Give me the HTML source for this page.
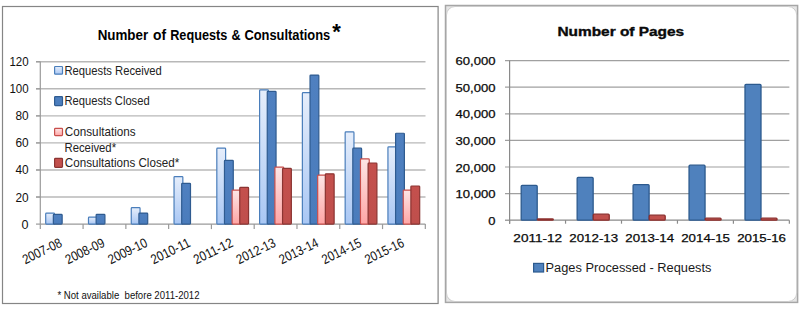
<!DOCTYPE html>
<html><head><meta charset="utf-8"><title>Charts</title>
<style>html,body{margin:0;padding:0;background:#fff;width:800px;height:309px;overflow:hidden}svg{display:block}</style>
</head><body>
<svg width="800" height="309" viewBox="0 0 800 309">
<defs>
<linearGradient id="gRR" x1="0" y1="0" x2="0" y2="1"><stop offset="0" stop-color="#e6eefb"/><stop offset="1" stop-color="#a9c7f4"/></linearGradient>
<linearGradient id="gRC" x1="0" y1="0" x2="0" y2="1"><stop offset="0" stop-color="#4f80c0"/><stop offset="1" stop-color="#4a7cbc"/></linearGradient>
<linearGradient id="gCR" x1="0" y1="0" x2="0" y2="1"><stop offset="0" stop-color="#fde6e6"/><stop offset="1" stop-color="#ffa5a5"/></linearGradient>
<linearGradient id="gCC" x1="0" y1="0" x2="0" y2="1"><stop offset="0" stop-color="#c4504d"/><stop offset="1" stop-color="#bf4f4c"/></linearGradient>
</defs>
<rect x="2.5" y="6.5" width="435.6" height="297" fill="#fff" stroke="#858585" stroke-width="1.2"/>
<text x="97.63" y="39.80" font-family='"Liberation Sans", sans-serif' font-size="14.8" fill="#000" font-weight="bold" textLength="50.55" lengthAdjust="spacingAndGlyphs" xml:space="preserve">Number</text>
<text x="152.95" y="39.80" font-family='"Liberation Sans", sans-serif' font-size="14.8" fill="#000" font-weight="bold" textLength="13.04" lengthAdjust="spacingAndGlyphs" xml:space="preserve">of</text>
<text x="170.17" y="39.80" font-family='"Liberation Sans", sans-serif' font-size="14.8" fill="#000" font-weight="bold" textLength="57.15" lengthAdjust="spacingAndGlyphs" xml:space="preserve">Requests</text>
<text x="231.53" y="39.80" font-family='"Liberation Sans", sans-serif' font-size="14.8" fill="#000" font-weight="bold" textLength="9.13" lengthAdjust="spacingAndGlyphs" xml:space="preserve">&amp;</text>
<text x="244.38" y="39.80" font-family='"Liberation Sans", sans-serif' font-size="14.8" fill="#000" font-weight="bold" textLength="85.90" lengthAdjust="spacingAndGlyphs" xml:space="preserve">Consultations</text>
<text x="332.20" y="38.90" font-family='"Liberation Sans", sans-serif' font-size="22" fill="#000" font-weight="bold" xml:space="preserve">*</text>
<line x1="36" y1="197.04" x2="425.5" y2="197.04" stroke="#b8b8b8" stroke-width="1.4"/>
<line x1="36" y1="169.98" x2="425.5" y2="169.98" stroke="#b8b8b8" stroke-width="1.4"/>
<line x1="36" y1="142.92" x2="425.5" y2="142.92" stroke="#b8b8b8" stroke-width="1.4"/>
<line x1="36" y1="115.86" x2="425.5" y2="115.86" stroke="#b8b8b8" stroke-width="1.4"/>
<line x1="36" y1="88.80" x2="425.5" y2="88.80" stroke="#b8b8b8" stroke-width="1.4"/>
<line x1="36" y1="61.74" x2="425.5" y2="61.74" stroke="#b8b8b8" stroke-width="1.4"/>
<text x="28.60" y="228.60" font-family='"Liberation Sans", sans-serif' font-size="11.9" fill="#111" text-anchor="end" textLength="7.0" lengthAdjust="spacingAndGlyphs" xml:space="preserve">0</text>
<line x1="36" y1="224.10" x2="40.3" y2="224.10" stroke="#9a9a9a" stroke-width="1.2"/>
<text x="28.60" y="201.54" font-family='"Liberation Sans", sans-serif' font-size="11.9" fill="#111" text-anchor="end" textLength="13.2" lengthAdjust="spacingAndGlyphs" xml:space="preserve">20</text>
<line x1="36" y1="197.04" x2="40.3" y2="197.04" stroke="#9a9a9a" stroke-width="1.2"/>
<text x="28.60" y="174.48" font-family='"Liberation Sans", sans-serif' font-size="11.9" fill="#111" text-anchor="end" textLength="13.2" lengthAdjust="spacingAndGlyphs" xml:space="preserve">40</text>
<line x1="36" y1="169.98" x2="40.3" y2="169.98" stroke="#9a9a9a" stroke-width="1.2"/>
<text x="28.60" y="147.42" font-family='"Liberation Sans", sans-serif' font-size="11.9" fill="#111" text-anchor="end" textLength="13.2" lengthAdjust="spacingAndGlyphs" xml:space="preserve">60</text>
<line x1="36" y1="142.92" x2="40.3" y2="142.92" stroke="#9a9a9a" stroke-width="1.2"/>
<text x="28.60" y="120.36" font-family='"Liberation Sans", sans-serif' font-size="11.9" fill="#111" text-anchor="end" textLength="13.2" lengthAdjust="spacingAndGlyphs" xml:space="preserve">80</text>
<line x1="36" y1="115.86" x2="40.3" y2="115.86" stroke="#9a9a9a" stroke-width="1.2"/>
<text x="28.60" y="93.30" font-family='"Liberation Sans", sans-serif' font-size="11.9" fill="#111" text-anchor="end" textLength="19.2" lengthAdjust="spacingAndGlyphs" xml:space="preserve">100</text>
<line x1="36" y1="88.80" x2="40.3" y2="88.80" stroke="#9a9a9a" stroke-width="1.2"/>
<text x="28.60" y="66.24" font-family='"Liberation Sans", sans-serif' font-size="11.9" fill="#111" text-anchor="end" textLength="19.2" lengthAdjust="spacingAndGlyphs" xml:space="preserve">120</text>
<line x1="36" y1="61.74" x2="40.3" y2="61.74" stroke="#9a9a9a" stroke-width="1.2"/>
<line x1="40.3" y1="61.74" x2="40.3" y2="224.1" stroke="#9a9a9a" stroke-width="1.2"/>
<line x1="40.3" y1="224.1" x2="425.32" y2="224.1" stroke="#9a9a9a" stroke-width="1.2"/>
<line x1="40.30" y1="224.1" x2="40.30" y2="229.1" stroke="#9a9a9a" stroke-width="1.2"/>
<line x1="83.08" y1="224.1" x2="83.08" y2="229.1" stroke="#9a9a9a" stroke-width="1.2"/>
<line x1="125.86" y1="224.1" x2="125.86" y2="229.1" stroke="#9a9a9a" stroke-width="1.2"/>
<line x1="168.64" y1="224.1" x2="168.64" y2="229.1" stroke="#9a9a9a" stroke-width="1.2"/>
<line x1="211.42" y1="224.1" x2="211.42" y2="229.1" stroke="#9a9a9a" stroke-width="1.2"/>
<line x1="254.20" y1="224.1" x2="254.20" y2="229.1" stroke="#9a9a9a" stroke-width="1.2"/>
<line x1="296.98" y1="224.1" x2="296.98" y2="229.1" stroke="#9a9a9a" stroke-width="1.2"/>
<line x1="339.76" y1="224.1" x2="339.76" y2="229.1" stroke="#9a9a9a" stroke-width="1.2"/>
<line x1="382.54" y1="224.1" x2="382.54" y2="229.1" stroke="#9a9a9a" stroke-width="1.2"/>
<line x1="425.32" y1="224.1" x2="425.32" y2="229.1" stroke="#9a9a9a" stroke-width="1.2"/>
<rect x="45.70" y="213.08" width="8.80" height="11.02" rx="0.8" fill="url(#gRR)" stroke="#4a7ebb" stroke-width="1.2"/>
<rect x="53.35" y="214.43" width="8.80" height="9.67" rx="0.8" fill="url(#gRC)" stroke="#2f5b90" stroke-width="1.2"/>
<rect x="88.48" y="217.13" width="8.80" height="6.96" rx="0.8" fill="url(#gRR)" stroke="#4a7ebb" stroke-width="1.2"/>
<rect x="96.13" y="214.43" width="8.80" height="9.67" rx="0.8" fill="url(#gRC)" stroke="#2f5b90" stroke-width="1.2"/>
<rect x="131.26" y="207.66" width="8.80" height="16.44" rx="0.8" fill="url(#gRR)" stroke="#4a7ebb" stroke-width="1.2"/>
<rect x="138.91" y="213.08" width="8.80" height="11.02" rx="0.8" fill="url(#gRC)" stroke="#2f5b90" stroke-width="1.2"/>
<rect x="174.04" y="176.54" width="8.80" height="47.55" rx="0.8" fill="url(#gRR)" stroke="#4a7ebb" stroke-width="1.2"/>
<rect x="181.69" y="183.31" width="8.80" height="40.79" rx="0.8" fill="url(#gRC)" stroke="#2f5b90" stroke-width="1.2"/>
<rect x="216.82" y="148.13" width="8.80" height="75.97" rx="0.8" fill="url(#gRR)" stroke="#4a7ebb" stroke-width="1.2"/>
<rect x="224.47" y="160.31" width="8.80" height="63.79" rx="0.8" fill="url(#gRC)" stroke="#2f5b90" stroke-width="1.2"/>
<rect x="232.12" y="190.07" width="8.80" height="34.03" rx="0.8" fill="url(#gCR)" stroke="#c84e4b" stroke-width="1.2"/>
<rect x="239.77" y="187.37" width="8.80" height="36.73" rx="0.8" fill="url(#gCC)" stroke="#8b3432" stroke-width="1.2"/>
<rect x="259.60" y="89.95" width="8.80" height="134.15" rx="0.8" fill="url(#gRR)" stroke="#4a7ebb" stroke-width="1.2"/>
<rect x="267.25" y="91.31" width="8.80" height="132.79" rx="0.8" fill="url(#gRC)" stroke="#2f5b90" stroke-width="1.2"/>
<rect x="274.90" y="167.07" width="8.80" height="57.03" rx="0.8" fill="url(#gCR)" stroke="#c84e4b" stroke-width="1.2"/>
<rect x="282.55" y="168.43" width="8.80" height="55.67" rx="0.8" fill="url(#gCC)" stroke="#8b3432" stroke-width="1.2"/>
<rect x="302.38" y="92.66" width="8.80" height="131.44" rx="0.8" fill="url(#gRR)" stroke="#4a7ebb" stroke-width="1.2"/>
<rect x="310.03" y="75.07" width="8.80" height="149.03" rx="0.8" fill="url(#gRC)" stroke="#2f5b90" stroke-width="1.2"/>
<rect x="317.68" y="175.19" width="8.80" height="48.91" rx="0.8" fill="url(#gCR)" stroke="#c84e4b" stroke-width="1.2"/>
<rect x="325.33" y="173.84" width="8.80" height="50.26" rx="0.8" fill="url(#gCC)" stroke="#8b3432" stroke-width="1.2"/>
<rect x="345.16" y="131.90" width="8.80" height="92.20" rx="0.8" fill="url(#gRR)" stroke="#4a7ebb" stroke-width="1.2"/>
<rect x="352.81" y="148.13" width="8.80" height="75.97" rx="0.8" fill="url(#gRC)" stroke="#2f5b90" stroke-width="1.2"/>
<rect x="360.46" y="158.96" width="8.80" height="65.14" rx="0.8" fill="url(#gCR)" stroke="#c84e4b" stroke-width="1.2"/>
<rect x="368.11" y="163.01" width="8.80" height="61.09" rx="0.8" fill="url(#gCC)" stroke="#8b3432" stroke-width="1.2"/>
<rect x="387.94" y="146.78" width="8.80" height="77.32" rx="0.8" fill="url(#gRR)" stroke="#4a7ebb" stroke-width="1.2"/>
<rect x="395.59" y="133.25" width="8.80" height="90.85" rx="0.8" fill="url(#gRC)" stroke="#2f5b90" stroke-width="1.2"/>
<rect x="403.24" y="190.07" width="8.80" height="34.03" rx="0.8" fill="url(#gCR)" stroke="#c84e4b" stroke-width="1.2"/>
<rect x="410.89" y="186.02" width="8.80" height="38.08" rx="0.8" fill="url(#gCC)" stroke="#8b3432" stroke-width="1.2"/>
<g transform="translate(62.89,246.0) rotate(-26)"><text x="0.00" y="0.00" font-family='"Liberation Sans", sans-serif' font-size="13.5" fill="#111" text-anchor="end" textLength="42" lengthAdjust="spacingAndGlyphs" xml:space="preserve">2007-08</text></g>
<g transform="translate(105.67,246.0) rotate(-26)"><text x="0.00" y="0.00" font-family='"Liberation Sans", sans-serif' font-size="13.5" fill="#111" text-anchor="end" textLength="42" lengthAdjust="spacingAndGlyphs" xml:space="preserve">2008-09</text></g>
<g transform="translate(148.45,246.0) rotate(-26)"><text x="0.00" y="0.00" font-family='"Liberation Sans", sans-serif' font-size="13.5" fill="#111" text-anchor="end" textLength="42" lengthAdjust="spacingAndGlyphs" xml:space="preserve">2009-10</text></g>
<g transform="translate(191.23,246.0) rotate(-26)"><text x="0.00" y="0.00" font-family='"Liberation Sans", sans-serif' font-size="13.5" fill="#111" text-anchor="end" textLength="42" lengthAdjust="spacingAndGlyphs" xml:space="preserve">2010-11</text></g>
<g transform="translate(234.01,246.0) rotate(-26)"><text x="0.00" y="0.00" font-family='"Liberation Sans", sans-serif' font-size="13.5" fill="#111" text-anchor="end" textLength="42" lengthAdjust="spacingAndGlyphs" xml:space="preserve">2011-12</text></g>
<g transform="translate(276.79,246.0) rotate(-26)"><text x="0.00" y="0.00" font-family='"Liberation Sans", sans-serif' font-size="13.5" fill="#111" text-anchor="end" textLength="42" lengthAdjust="spacingAndGlyphs" xml:space="preserve">2012-13</text></g>
<g transform="translate(319.57,246.0) rotate(-26)"><text x="0.00" y="0.00" font-family='"Liberation Sans", sans-serif' font-size="13.5" fill="#111" text-anchor="end" textLength="42" lengthAdjust="spacingAndGlyphs" xml:space="preserve">2013-14</text></g>
<g transform="translate(362.35,246.0) rotate(-26)"><text x="0.00" y="0.00" font-family='"Liberation Sans", sans-serif' font-size="13.5" fill="#111" text-anchor="end" textLength="42" lengthAdjust="spacingAndGlyphs" xml:space="preserve">2014-15</text></g>
<g transform="translate(405.13,246.0) rotate(-26)"><text x="0.00" y="0.00" font-family='"Liberation Sans", sans-serif' font-size="13.5" fill="#111" text-anchor="end" textLength="42" lengthAdjust="spacingAndGlyphs" xml:space="preserve">2015-16</text></g>
<rect x="54.6" y="66.50" width="7.9" height="7.70" rx="0.8" fill="url(#gRR)" stroke="#4a7ebb" stroke-width="1.2"/>
<text x="64.50" y="75.30" font-family='"Liberation Sans", sans-serif' font-size="13.0" fill="#222" textLength="97.35" lengthAdjust="spacingAndGlyphs" xml:space="preserve">Requests Received</text>
<rect x="54.6" y="96.60" width="7.9" height="9.00" rx="0.8" fill="url(#gRC)" stroke="#2f5b90" stroke-width="1.2"/>
<text x="64.51" y="105.40" font-family='"Liberation Sans", sans-serif' font-size="13.0" fill="#222" textLength="85.13" lengthAdjust="spacingAndGlyphs" xml:space="preserve">Requests Closed</text>
<rect x="54.6" y="128.40" width="7.9" height="7.20" rx="0.8" fill="url(#gCR)" stroke="#c84e4b" stroke-width="1.2"/>
<text x="64.82" y="135.70" font-family='"Liberation Sans", sans-serif' font-size="13.0" fill="#222" textLength="70.89" lengthAdjust="spacingAndGlyphs" xml:space="preserve">Consultations</text>
<rect x="54.6" y="158.40" width="7.9" height="9.00" rx="0.8" fill="url(#gCC)" stroke="#8b3432" stroke-width="1.2"/>
<text x="64.82" y="166.80" font-family='"Liberation Sans", sans-serif' font-size="13.0" fill="#222" textLength="114.34" lengthAdjust="spacingAndGlyphs" xml:space="preserve">Consultations Closed*</text>
<text x="64.50" y="152.20" font-family='"Liberation Sans", sans-serif' font-size="13.0" fill="#222" textLength="51.55" lengthAdjust="spacingAndGlyphs" xml:space="preserve">Received*</text>
<text x="57.46" y="299.20" font-family='"Liberation Sans", sans-serif' font-size="10.8" fill="#111" textLength="142.03" lengthAdjust="spacingAndGlyphs" xml:space="preserve">* Not available  before 2011-2012</text>
<rect x="445.5" y="5.5" width="352.1" height="296.9" fill="#e6e6e6" stroke="#a6a6a6" stroke-width="1.5"/>
<rect x="446.5" y="6.5" width="350.2" height="295" rx="8.5" ry="8.5" fill="#fff" stroke="#cccccc" stroke-width="1"/>
<text x="557.40" y="35.80" font-family='"Liberation Sans", sans-serif' font-size="12.4" fill="#0a0a0a" font-weight="bold" textLength="126.81" lengthAdjust="spacingAndGlyphs" xml:space="preserve" stroke="#0a0a0a" stroke-width="0.35">Number of Pages</text>
<line x1="505" y1="220.20" x2="509.60" y2="220.20" stroke="#8a8a8a" stroke-width="1.2"/>
<text x="495.50" y="224.70" font-family='"Liberation Sans", sans-serif' font-size="10.8" fill="#0a0a0a" text-anchor="end" textLength="7.2" lengthAdjust="spacingAndGlyphs" xml:space="preserve" stroke="#0a0a0a" stroke-width="0.25">0</text>
<line x1="505" y1="193.60" x2="789.35" y2="193.60" stroke="#a0a0a0" stroke-width="1.2"/>
<text x="495.50" y="198.10" font-family='"Liberation Sans", sans-serif' font-size="10.8" fill="#0a0a0a" text-anchor="end" textLength="40.0" lengthAdjust="spacingAndGlyphs" xml:space="preserve" stroke="#0a0a0a" stroke-width="0.25">10,000</text>
<line x1="505" y1="167.00" x2="789.35" y2="167.00" stroke="#a0a0a0" stroke-width="1.2"/>
<text x="495.50" y="171.50" font-family='"Liberation Sans", sans-serif' font-size="10.8" fill="#0a0a0a" text-anchor="end" textLength="40.0" lengthAdjust="spacingAndGlyphs" xml:space="preserve" stroke="#0a0a0a" stroke-width="0.25">20,000</text>
<line x1="505" y1="140.40" x2="789.35" y2="140.40" stroke="#a0a0a0" stroke-width="1.2"/>
<text x="495.50" y="144.90" font-family='"Liberation Sans", sans-serif' font-size="10.8" fill="#0a0a0a" text-anchor="end" textLength="40.0" lengthAdjust="spacingAndGlyphs" xml:space="preserve" stroke="#0a0a0a" stroke-width="0.25">30,000</text>
<line x1="505" y1="113.80" x2="789.35" y2="113.80" stroke="#a0a0a0" stroke-width="1.2"/>
<text x="495.50" y="118.30" font-family='"Liberation Sans", sans-serif' font-size="10.8" fill="#0a0a0a" text-anchor="end" textLength="40.0" lengthAdjust="spacingAndGlyphs" xml:space="preserve" stroke="#0a0a0a" stroke-width="0.25">40,000</text>
<line x1="505" y1="87.20" x2="789.35" y2="87.20" stroke="#a0a0a0" stroke-width="1.2"/>
<text x="495.50" y="91.70" font-family='"Liberation Sans", sans-serif' font-size="10.8" fill="#0a0a0a" text-anchor="end" textLength="40.0" lengthAdjust="spacingAndGlyphs" xml:space="preserve" stroke="#0a0a0a" stroke-width="0.25">50,000</text>
<line x1="505" y1="60.60" x2="789.35" y2="60.60" stroke="#a0a0a0" stroke-width="1.2"/>
<text x="495.50" y="65.10" font-family='"Liberation Sans", sans-serif' font-size="10.8" fill="#0a0a0a" text-anchor="end" textLength="40.0" lengthAdjust="spacingAndGlyphs" xml:space="preserve" stroke="#0a0a0a" stroke-width="0.25">60,000</text>
<line x1="509.6" y1="60.60" x2="509.6" y2="223.7" stroke="#8a8a8a" stroke-width="1.2"/>
<line x1="509.6" y1="220.2" x2="789.35" y2="220.2" stroke="#8a8a8a" stroke-width="1.2"/>
<line x1="509.60" y1="220.2" x2="509.60" y2="223.7" stroke="#8a8a8a" stroke-width="1.2"/>
<line x1="565.55" y1="220.2" x2="565.55" y2="223.7" stroke="#8a8a8a" stroke-width="1.2"/>
<line x1="621.50" y1="220.2" x2="621.50" y2="223.7" stroke="#8a8a8a" stroke-width="1.2"/>
<line x1="677.45" y1="220.2" x2="677.45" y2="223.7" stroke="#8a8a8a" stroke-width="1.2"/>
<line x1="733.40" y1="220.2" x2="733.40" y2="223.7" stroke="#8a8a8a" stroke-width="1.2"/>
<line x1="789.35" y1="220.2" x2="789.35" y2="223.7" stroke="#8a8a8a" stroke-width="1.2"/>
<rect x="521.20" y="185.42" width="16.00" height="34.78" rx="1" fill="#4f81bd" stroke="#2c5a8e" stroke-width="1.3"/>
<rect x="537.30" y="218.94" width="16.00" height="1.26" rx="1" fill="#c0504d" stroke="#8c2f2d" stroke-width="1.3"/>
<text x="537.78" y="241.80" font-family='"Liberation Sans", sans-serif' font-size="10.8" fill="#0a0a0a" text-anchor="middle" textLength="48.8" lengthAdjust="spacingAndGlyphs" xml:space="preserve" stroke="#0a0a0a" stroke-width="0.25">2011-12</text>
<rect x="577.15" y="177.44" width="16.00" height="42.76" rx="1" fill="#4f81bd" stroke="#2c5a8e" stroke-width="1.3"/>
<rect x="593.25" y="214.15" width="16.00" height="6.05" rx="1" fill="#c0504d" stroke="#8c2f2d" stroke-width="1.3"/>
<text x="593.73" y="241.80" font-family='"Liberation Sans", sans-serif' font-size="10.8" fill="#0a0a0a" text-anchor="middle" textLength="48.8" lengthAdjust="spacingAndGlyphs" xml:space="preserve" stroke="#0a0a0a" stroke-width="0.25">2012-13</text>
<rect x="633.10" y="184.62" width="16.00" height="35.58" rx="1" fill="#4f81bd" stroke="#2c5a8e" stroke-width="1.3"/>
<rect x="649.20" y="215.21" width="16.00" height="4.99" rx="1" fill="#c0504d" stroke="#8c2f2d" stroke-width="1.3"/>
<text x="649.68" y="241.80" font-family='"Liberation Sans", sans-serif' font-size="10.8" fill="#0a0a0a" text-anchor="middle" textLength="48.8" lengthAdjust="spacingAndGlyphs" xml:space="preserve" stroke="#0a0a0a" stroke-width="0.25">2013-14</text>
<rect x="689.05" y="165.21" width="16.00" height="54.99" rx="1" fill="#4f81bd" stroke="#2c5a8e" stroke-width="1.3"/>
<rect x="705.15" y="218.14" width="16.00" height="2.06" rx="1" fill="#c0504d" stroke="#8c2f2d" stroke-width="1.3"/>
<text x="705.63" y="241.80" font-family='"Liberation Sans", sans-serif' font-size="10.8" fill="#0a0a0a" text-anchor="middle" textLength="48.8" lengthAdjust="spacingAndGlyphs" xml:space="preserve" stroke="#0a0a0a" stroke-width="0.25">2014-15</text>
<rect x="745.00" y="84.34" width="16.00" height="135.86" rx="1" fill="#4f81bd" stroke="#2c5a8e" stroke-width="1.3"/>
<rect x="761.10" y="218.14" width="16.00" height="2.06" rx="1" fill="#c0504d" stroke="#8c2f2d" stroke-width="1.3"/>
<text x="761.58" y="241.80" font-family='"Liberation Sans", sans-serif' font-size="10.8" fill="#0a0a0a" text-anchor="middle" textLength="48.8" lengthAdjust="spacingAndGlyphs" xml:space="preserve" stroke="#0a0a0a" stroke-width="0.25">2015-16</text>
<rect x="533.6" y="263.4" width="10" height="8.6" fill="#4f81bd" stroke="#2c5a8e" stroke-width="1.2"/>
<text x="545.58" y="271.60" font-family='"Liberation Sans", sans-serif' font-size="12.0" fill="#1a1a1a" textLength="165.89" lengthAdjust="spacingAndGlyphs" xml:space="preserve">Pages Processed - Requests</text>
</svg>
</body></html>
